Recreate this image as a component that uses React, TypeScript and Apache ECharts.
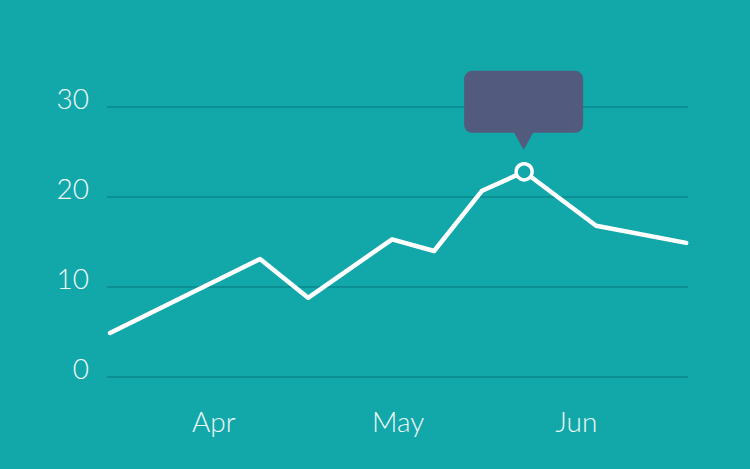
import React, { useEffect, useRef } from "react";
import * as echarts from "echarts";

// x values are day offsets along the time axis
const days = [0, 25, 33, 47, 54, 62, 69, 81, 96];
const values = [4.9, 13.1, 8.8, 15.3, 14.0, 20.7, 22.8, 16.8, 14.9];
const monthTickDays = [17.3, 48, 77.7];
const monthLabels = ["Apr", "May", "Jun"];
const yTicks = [0, 10, 20, 30];
const highlightIndex = 6;

const BUBBLE_PATH =
  "path://M8,0 H111 A8,8 0 0 1 119,8 V54 A8,8 0 0 1 111,62 H69 L59.5,79 L50,62 H8 A8,8 0 0 1 0,54 V8 A8,8 0 0 1 8,0 Z";

export default function App() {
  const ref = useRef<HTMLDivElement>(null);
  useEffect(() => {
    if (!ref.current) return;
    const chart = echarts.init(ref.current, null, { renderer: "svg" });
    const font = "Lato, 'Open Sans', sans-serif";
    chart.setOption({
      animation: false,
      backgroundColor: "#12A7A9",
      grid: { left: 107, right: 62, top: 107, bottom: 92, containLabel: false },
      xAxis: {
        type: "value",
        min: -0.5,
        max: 96.3,
        axisLine: { show: false },
        axisTick: { show: false },
        splitLine: { show: false },
        axisLabel: {
          customValues: monthTickDays,
          formatter: (v: number) => {
            const i = monthTickDays.findIndex((d) => Math.abs(d - v) < 0.01);
            return i >= 0 ? monthLabels[i] : "";
          },
          color: "#EEF8F8",
          fontSize: 28,
          fontFamily: font,
          fontWeight: 300,
          margin: 30,
        },
      },
      yAxis: {
        type: "value",
        min: 0,
        max: 30,
        interval: 10,
        axisLine: { show: false },
        axisTick: { show: false },
        splitLine: { lineStyle: { color: "#0C8F92", width: 2 } },
        axisLabel: {
          customValues: yTicks,
          color: "#EEF8F8",
          fontSize: 28,
          fontFamily: font,
          fontWeight: 300,
          margin: 18,
          verticalAlign: "bottom",
          lineHeight: 18,
        },
      },
      series: [
        {
          type: "line",
          data: days.map((d, i) => [d, values[i]]),
          showSymbol: false,
          symbol: "none",
          lineStyle: { color: "#FFFFFF", width: 4.5, cap: "round", join: "round" },
          markPoint: {
            label: { show: false },
            data: [
              {
                coord: [days[highlightIndex], values[highlightIndex]],
                symbol: "circle",
                symbolSize: 16,
                itemStyle: { color: "#12A7A9", borderColor: "#FFFFFF", borderWidth: 3.5 },
              },
              {
                coord: [days[highlightIndex], values[highlightIndex]],
                symbol: BUBBLE_PATH,
                symbolSize: [119, 79],
                symbolOffset: [-0.5, -61.5],
                itemStyle: { color: "#525B7E" },
              },
            ],
          },
        },
      ],
    });
    return () => chart.dispose();
  }, []);
  return (
    <div
      ref={ref}
      style={{ position: "fixed", left: 0, top: 0, width: 750, height: 469, background: "#12A7A9" }}
    />
  );
}
